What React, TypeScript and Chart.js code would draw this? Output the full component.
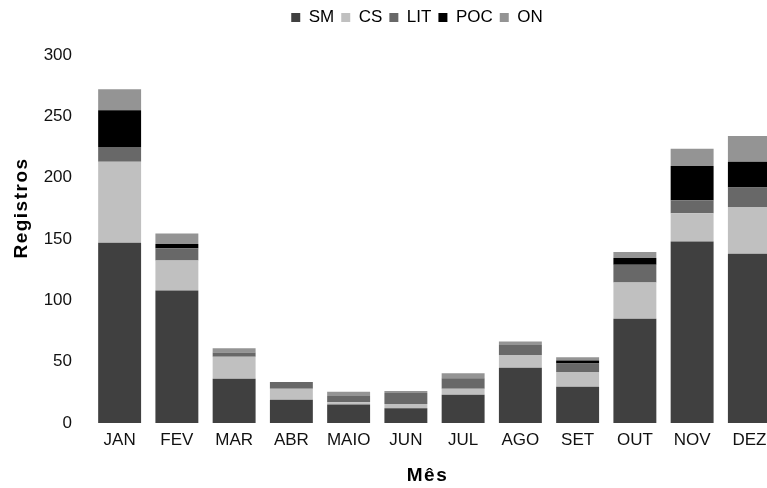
import React, { useEffect, useRef } from 'react';
import { Chart, registerables } from 'chart.js';

Chart.register(...registerables);

const months = ['JAN', 'FEV', 'MAR', 'ABR', 'MAIO', 'JUN', 'JUL', 'AGO', 'SET', 'OUT', 'NOV', 'DEZ'];
const seriesNames = ['SM', 'CS', 'LIT', 'POC', 'ON'];
const smValues = [147, 108, 36, 19, 15, 12, 23, 45, 29.5, 85, 148, 138];
const csValues = [66, 24.5, 18, 9, 2, 3.5, 5, 10.5, 12, 29.5, 23, 38];
const litValues = [12, 10, 3.5, 5.5, 5, 9, 8.5, 8, 7, 14.5, 10.5, 16];
const pocValues = [30, 3.5, 0, 0, 0, 0, 0, 0, 2.5, 5.5, 28, 21];
const onValues = [17, 8.5, 3.5, 0, 3.5, 1.5, 4, 3, 2.5, 5, 14, 21];
const seriesColors = ['#404040', '#c0c0c0', '#686868', '#000000', '#949494'];
const yMax = 300;
const yStep = 50;
const xTitle = 'Mês';
const yTitle = 'Registros';

const FONT = '"Liberation Sans", Arial, Helvetica, sans-serif';
Chart.defaults.font.family = FONT;

const LEGEND_H = 55;
const LEGEND_SHIFT = 28;
const LEGEND_DROP = 2;

const legendTweak = {
  id: 'legendTweak',
  beforeLayout(chart: any) {
    const lg = chart.legend;
    if (lg && !lg.__wrapped) {
      const f = lg.fit;
      lg.fit = function () {
        f.call(this);
        this.height = LEGEND_H;
      };
      lg.__wrapped = true;
    }
  },
  afterLayout(chart: any) {
    const lg = chart.legend;
    if (lg) {
      lg.left += LEGEND_SHIFT;
      lg.right += LEGEND_SHIFT;
      lg.top += LEGEND_DROP;
      lg.bottom += LEGEND_DROP;
    }
  },
};

const axisTitles = {
  id: 'axisTitles',
  afterDraw(chart: any) {
    const { ctx, chartArea } = chart;
    ctx.save();
    ctx.font = `bold 19px ${FONT}`;
    ctx.fillStyle = '#000';
    ctx.textAlign = 'center';
    ctx.textBaseline = 'middle';
    (ctx as any).letterSpacing = '1.5px';
    ctx.fillText(xTitle, (chartArea.left + chartArea.right) / 2 - 7, chartArea.bottom + 53);
    ctx.translate(22, chartArea.top + 153);
    ctx.rotate(-Math.PI / 2);
    ctx.fillText(yTitle, 0, 0);
    ctx.restore();
  },
};

export default function App() {
  const ref = useRef<HTMLCanvasElement>(null);

  useEffect(() => {
    const canvas = ref.current;
    if (!canvas) return;
    const values = [smValues, csValues, litValues, pocValues, onValues];
    const chart = new Chart(canvas, {
      type: 'bar',
      data: {
        labels: months,
        datasets: seriesNames.map((name, i) => ({
          label: name,
          data: values[i],
          backgroundColor: seriesColors[i],
          borderWidth: 0,
          categoryPercentage: 1,
          barPercentage: 0.75,
        })),
      },
      options: {
        responsive: false,
        animation: false,
        layout: { padding: 0 },
        scales: {
          x: {
            stacked: true,
            grid: { display: false, drawTicks: false },
            border: { display: false },
            ticks: { color: '#111', font: { size: 17 }, padding: 7, maxRotation: 0, autoSkip: false },
            afterFit: (s: any) => {
              s.height = 65;
            },
          },
          y: {
            stacked: true,
            min: 0,
            max: yMax,
            ticks: { stepSize: yStep, color: '#111', font: { size: 17 }, padding: 19 },
            grid: { display: false, drawTicks: false },
            border: { display: false },
            afterFit: (s: any) => {
              s.width = 91;
            },
          },
        },
        plugins: {
          legend: {
            position: 'top',
            labels: { boxWidth: 9, boxHeight: 9, color: '#000', font: { size: 17 }, padding: 7 },
          },
          tooltip: { enabled: false },
        },
      },
      plugins: [legendTweak, axisTitles],
    });
    return () => chart.destroy();
  }, []);

  return (
    <div
      style={{
        position: 'fixed',
        left: 0,
        top: 0,
        width: 767,
        height: 488,
        overflow: 'hidden',
        background: '#fff',
      }}
    >
      <canvas ref={ref} width={778} height={488} style={{ display: 'block', width: 778, height: 488 }} />
    </div>
  );
}
